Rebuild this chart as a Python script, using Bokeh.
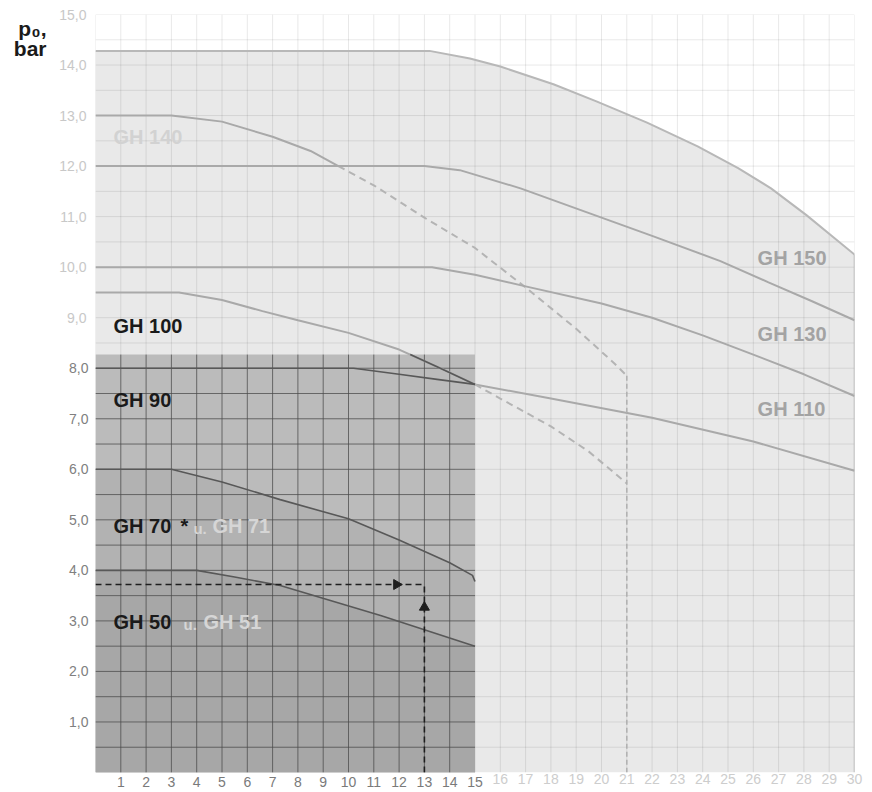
import numpy as np
from bokeh.plotting import figure
from bokeh.models import FixedTicker, LinearAxis, Range1d, AllLabels
from bokeh.core.properties import value
from bokeh.embed import file_html
from bokeh.resources import INLINE

# ---------------- data ----------------
x_ticks = [1, 2, 3, 4, 5, 6, 7, 8, 9, 10, 11, 12, 13, 14, 15,
           16, 17, 18, 19, 20, 21, 22, 23, 24, 25, 26, 27, 28, 29, 30]
x_tick_labels = [str(t) for t in x_ticks]
y_ticks = [1, 2, 3, 4, 5, 6, 7, 8, 9, 10, 11, 12, 13, 14, 15]
y_tick_labels = ["1,0", "2,0", "3,0", "4,0", "5,0", "6,0", "7,0", "8,0",
                 "9,0", "10,0", "11,0", "12,0", "13,0", "14,0", "15,0"]
n_dark_x = 15   # x labels 1..15 printed dark
n_dark_y = 8    # y labels 1,0..8,0 printed dark
y_title = ["p₀,", "bar"]

gh150_x = [0, 13.2, 14.8, 16, 18.1, 19.8, 21.8, 23.8, 25.4, 26.7, 28.1, 30]
gh150_y = [14.28, 14.28, 14.13, 13.97, 13.62, 13.28, 12.86, 12.39, 11.96, 11.56, 11.03, 10.25]

gh140_x = [0, 3, 5, 7, 8.5, 9.6]
gh140_y = [13.0, 13.0, 12.88, 12.58, 12.3, 12.0]
gh140_ext_x = [9.6, 11, 13, 15, 17, 19, 20.5, 21]
gh140_ext_y = [12.0, 11.62, 10.98, 10.38, 9.6, 8.78, 8.1, 7.85]

gh130_x = [0, 13, 14.4, 16.8, 19.4, 22, 24.7, 26.6, 28.3, 30]
gh130_y = [12.0, 12.0, 11.92, 11.56, 11.09, 10.62, 10.12, 9.7, 9.33, 8.95]

gh110_x = [0, 13.3, 15, 17, 20, 22, 24, 26, 28, 30]
gh110_y = [10.0, 10.0, 9.85, 9.62, 9.28, 9.0, 8.65, 8.27, 7.88, 7.45]

gh100_x = [0, 3.3, 5, 6.6, 8, 10, 12, 13.5, 15, 18, 22, 26, 30]
gh100_y = [9.5, 9.5, 9.35, 9.13, 8.95, 8.7, 8.37, 8.03, 7.68, 7.4, 7.02, 6.55, 5.97]

gh90_x = [0, 10.2, 12, 13.5, 15]
gh90_y = [8.0, 8.0, 7.88, 7.78, 7.68]
gh90_ext_x = [15, 16, 18, 19.5, 21]
gh90_ext_y = [7.68, 7.4, 6.85, 6.35, 5.72]

limit_x = [21, 21]
limit_y = [7.85, 0]

gh70_x = [0, 3, 5, 7.3, 10, 12, 14, 14.9, 15]
gh70_y = [6.0, 6.0, 5.75, 5.4, 5.02, 4.6, 4.15, 3.9, 3.78]

gh50_x = [0, 4, 5.5, 7.3, 11.3, 15]
gh50_y = [4.0, 4.0, 3.87, 3.7, 3.1, 2.5]

zone_x = [0, 15]
zone_top = 8.27

example_flow = 13
example_p0 = 3.72

# ---------------- figure ----------------
p = figure(width=872, height=792, x_range=Range1d(0, 30), y_range=Range1d(0, 15),
           output_backend="svg", toolbar_location=None,
           min_border_left=95, min_border_right=18, min_border_top=14, min_border_bottom=20)
p.xgrid.visible = False
p.ygrid.visible = False
p.outline_line_color = None
p.background_fill_color = "white"
p.border_fill_color = "white"

FONT = "Liberation Sans"

# light zone under GH 150
p.varea(x=gh150_x, y1=0, y2=gh150_y, fill_color="#e9e9e9")

# light grid across whole chart
gx = np.arange(0, 31, 1.0)
gy = np.arange(0.5, 15.01, 0.5)
p.segment(x0=gx, y0=0, x1=gx, y1=15, line_color="black", line_alpha=0.09, line_width=1)
p.segment(x0=0, y0=gy, x1=30, y1=gy, line_color="black", line_alpha=0.09, line_width=1)

# dark zone (GH 50 ... GH 90)
p.quad(left=zone_x[0], right=zone_x[1], bottom=0, top=zone_top,
       fill_color="#bbbbbb", line_color=None)
p.varea(x=gh70_x, y1=0, y2=gh70_y, fill_color="#b2b2b2")
p.varea(x=gh50_x, y1=0, y2=gh50_y, fill_color="#a7a7a7")

dgx = np.arange(1, zone_x[1], 1.0)
dgy = np.arange(0.5, zone_top, 0.5)
p.segment(x0=dgx, y0=0, x1=dgx, y1=zone_top, line_color="#4a4a4a", line_alpha=0.75, line_width=1)
p.segment(x0=zone_x[0], y0=dgy, x1=zone_x[1], y1=dgy, line_color="#4a4a4a", line_alpha=0.75, line_width=1)

# curves in light zone
light_line = "#a9a9a9"
p.line(gh150_x, gh150_y, line_color="#b8b8b8", line_width=2)
p.segment(x0=[30], y0=[0], x1=[30], y1=[gh150_y[-1]], line_color="#b0b0b0", line_width=1.5)
p.line(gh140_x, gh140_y, line_color=light_line, line_width=2)
p.line(gh140_ext_x, gh140_ext_y, line_color="#b4b4b4", line_width=2, line_dash="7 5")
p.line(gh130_x, gh130_y, line_color=light_line, line_width=2)
p.line(gh110_x, gh110_y, line_color=light_line, line_width=2)
p.line(gh100_x, gh100_y, line_color=light_line, line_width=2)
p.line(gh90_ext_x, gh90_ext_y, line_color="#b4b4b4", line_width=2, line_dash="7 5")
p.line(limit_x, limit_y, line_color="#b0b0b0", line_width=1.5, line_dash="5 3")

# curves in dark zone
dark_line = "#585858"
# part of GH 100 that runs across the dark zone is printed dark
g100x = np.array(gh100_x, dtype=float)
g100y = np.array(gh100_y, dtype=float)
x_enter = float(np.interp(zone_top, g100y[::-1], g100x[::-1]))
inside = (g100x > x_enter) & (g100x <= zone_x[1])
p.line(np.r_[x_enter, g100x[inside]], np.r_[zone_top, g100y[inside]],
       line_color=dark_line, line_width=1.6)
p.line(gh90_x, gh90_y, line_color=dark_line, line_width=1.6)
p.line(gh70_x, gh70_y, line_color=dark_line, line_width=1.6)
p.line(gh50_x, gh50_y, line_color=dark_line, line_width=1.6)

# example reading (dashed arrows)
p.line([0, example_flow], [example_p0, example_p0], line_color="#1e1e1e", line_width=1.6, line_dash="6 4")
p.line([example_flow, example_flow], [0, example_p0], line_color="#1e1e1e", line_width=1.6, line_dash="6 4")
p.scatter(x=[example_flow - 1.1], y=[example_p0], marker="triangle", size=10,
          angle=-np.pi / 2, fill_color="#1e1e1e", line_color="#1e1e1e")
p.scatter(x=[example_flow], y=[example_p0 - 0.45], marker="triangle", size=10,
          angle=0, fill_color="#1e1e1e", line_color="#1e1e1e")

# series labels
def lab(xs, ys, texts, color, size="20px", style="bold", align="left"):
    p.text(x=xs, y=ys, text=texts, text_color=color, text_font=value(FONT),
           text_font_size=size, text_font_style=style, text_align=align,
           text_baseline="middle")

lab([0.71, 0.71, 0.71, 0.71], [8.83, 7.37, 4.87, 2.97],
    ["GH 100", "GH 90", "GH 70", "GH 50"], "#1a1a1a")
lab([3.36], [4.87], ["*"], "#1a1a1a")
lab([3.87, 3.48], [4.82, 2.92], ["u.", "u."], "#d6d6d6", size="15px")
lab([4.62, 4.27], [4.87, 2.97], ["GH 71", "GH 51"], "#d6d6d6")
lab([0.71], [12.57], ["GH 140"], "#d2d2d2")
lab([26.17, 26.17, 26.17], [10.18, 8.67, 7.2], ["GH 150", "GH 130", "GH 110"], "#a3a3a3")

# ---------------- axes ----------------
def style_axis(ax, color, size, standoff, bold=False):
    ax.axis_line_color = None
    ax.major_tick_line_color = None
    ax.minor_tick_line_color = None
    ax.major_tick_out = 0
    ax.major_tick_in = 0
    ax.minor_tick_out = 0
    ax.minor_tick_in = 0
    ax.major_label_text_font = FONT
    ax.major_label_text_color = color
    ax.major_label_text_font_size = size
    ax.major_label_standoff = standoff
    ax.major_label_policy = AllLabels()
    if bold:
        ax.major_label_text_font_style = "bold"

overrides_x = {t: s for t, s in zip(x_ticks, x_tick_labels)}
overrides_y = {t: s for t, s in zip(y_ticks, y_tick_labels)}

# x: dark labels 1..15 (inner), light labels 16..30 pulled up onto the same line
xa = p.xaxis[0]
xa.ticker = FixedTicker(ticks=x_ticks[:n_dark_x])
xa.major_label_overrides = overrides_x
style_axis(xa, "#7a7a7a", "14px", 4)

xb = LinearAxis(ticker=FixedTicker(ticks=x_ticks[n_dark_x:]), major_label_overrides=overrides_x)
style_axis(xb, "#cdcdcd", "14px", -16)
p.add_layout(xb, "below")

# y: dark labels 1,0..8,0 (inner), light labels 9,0..15,0 pulled onto the same column
ya = p.yaxis[0]
ya.ticker = FixedTicker(ticks=y_ticks[:n_dark_y])
ya.major_label_overrides = overrides_y
style_axis(ya, "#808080", "14px", 7)

yb = LinearAxis(ticker=FixedTicker(ticks=y_ticks[n_dark_y:]), major_label_overrides=overrides_y)
style_axis(yb, "#c8c8c8", "14px", -20)
p.add_layout(yb, "left")

# y title "p0, / bar" at the top left
title_pos = [14.73, 14.33]
yc = LinearAxis(ticker=FixedTicker(ticks=title_pos),
                major_label_overrides={t: s for t, s in zip(title_pos, y_title)})
style_axis(yc, "#1a1a1a", "21px", 10, bold=True)
p.add_layout(yc, "left")

open("out.html", "w").write(file_html(p, INLINE))
